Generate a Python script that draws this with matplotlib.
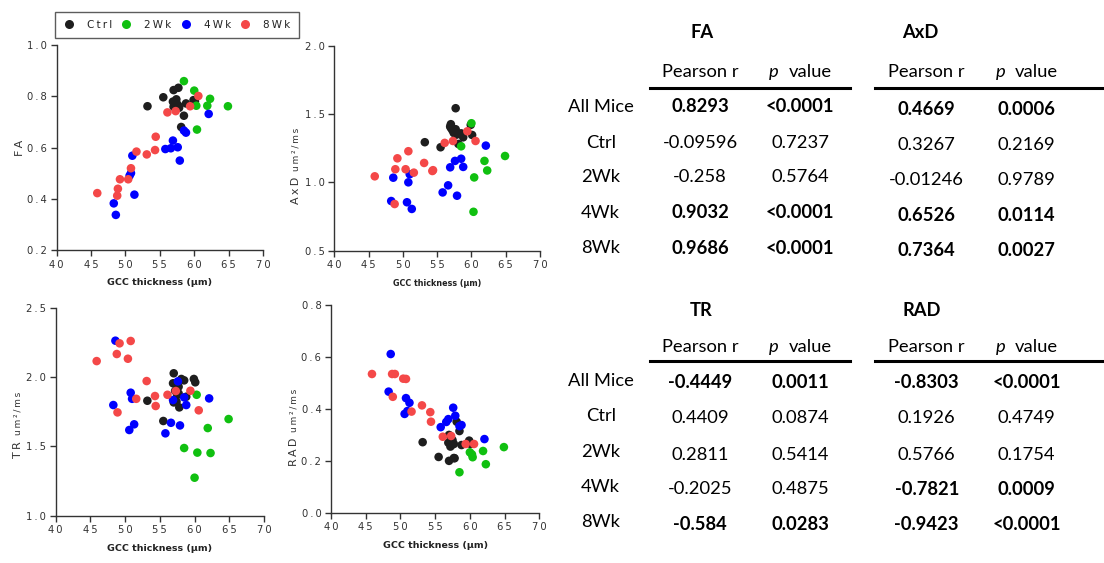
import matplotlib
matplotlib.use("Agg")
import matplotlib.pyplot as plt
from matplotlib.lines import Line2D

W, H = 1104, 563

# GCC thickness (µm) per mouse, by group
gcc_ctrl = [53.2, 55.5, 56.9, 57.0, 57.0, 57.2, 57.4, 57.5, 57.7, 57.7, 57.8, 58.1, 58.5, 58.8, 59.9, 60.1]
gcc_2wk = [58.5, 60.0, 60.3, 60.4, 61.9, 62.3, 64.9]
gcc_4wk = [48.3, 48.6, 50.6, 50.8, 51.0, 51.3, 55.8, 56.6, 56.9, 57.6, 57.9, 58.5, 58.8, 62.1]
gcc_8wk = [45.9, 48.8, 48.9, 49.2, 50.4, 50.8, 51.6, 53.1, 54.3, 54.4, 56.1, 57.3, 59.4, 60.6]

# Fractional anisotropy
fa_ctrl = [0.761, 0.796, 0.779, 0.824, 0.759, 0.762, 0.788, 0.770, 0.833, 0.763, 0.755, 0.680, 0.724, 0.772, 0.785, 0.780]
fa_2wk = [0.859, 0.822, 0.763, 0.670, 0.763, 0.790, 0.761]
fa_4wk = [0.382, 0.337, 0.490, 0.500, 0.568, 0.416, 0.594, 0.597, 0.627, 0.601, 0.549, 0.666, 0.658, 0.731]
fa_8wk = [0.422, 0.412, 0.439, 0.476, 0.476, 0.519, 0.584, 0.573, 0.590, 0.642, 0.737, 0.742, 0.761, 0.801]

# Axial diffusivity (um^2/ms)
axd_ctrl = [1.295, 1.258, 1.410, 1.427, 1.400, 1.385, 1.365, 1.361, 1.544, 1.390, 1.350, 1.282, 1.360, 1.331, 1.422, 1.348]
axd_2wk = [1.265, 1.434, 0.785, 1.037, 1.158, 1.088, 1.194]
axd_4wk = [0.864, 1.035, 0.855, 1.001, 1.060, 0.806, 0.927, 0.979, 1.111, 1.158, 0.903, 1.174, 1.114, 1.270]
axd_8wk = [1.045, 0.842, 1.097, 1.177, 1.097, 1.229, 1.072, 1.143, 1.084, 1.090, 1.290, 1.304, 1.375, 1.304]

# Trace (um^2/ms)
tr_ctrl = [1.829, 1.683, 1.955, 2.027, 1.817, 1.900, 1.822, 1.870, 1.882, 1.930, 1.781, 1.986, 1.976, 1.858, 1.986, 1.962]
tr_2wk = [1.488, 1.274, 1.872, 1.455, 1.632, 1.452, 1.697]
tr_4wk = [1.798, 2.262, 1.618, 1.887, 1.843, 1.659, 1.594, 1.670, 1.834, 1.969, 1.651, 1.853, 1.798, 1.846]
tr_8wk = [2.115, 2.166, 1.745, 2.243, 2.132, 2.260, 1.843, 1.971, 1.863, 1.791, 1.872, 1.899, 1.901, 1.760]

# Radial diffusivity (um^2/ms)
rad_ctrl = [0.272, 0.215, 0.270, 0.200, 0.300, 0.255, 0.262, 0.280, 0.211, 0.265, 0.210, 0.351, 0.315, 0.261, 0.278, 0.265]
rad_2wk = [0.156, 0.233, 0.225, 0.214, 0.238, 0.187, 0.253]
rad_4wk = [0.467, 0.612, 0.381, 0.442, 0.392, 0.424, 0.330, 0.350, 0.361, 0.405, 0.374, 0.334, 0.338, 0.284]
rad_8wk = [0.535, 0.535, 0.447, 0.535, 0.517, 0.516, 0.390, 0.414, 0.388, 0.351, 0.293, 0.296, 0.265, 0.265]

groups = ["Ctrl", "2Wk", "4Wk", "8Wk"]
colors = ["#1e1e1e", "#10c010", "#0000ff", "#f44848"]
gcc = [gcc_ctrl, gcc_2wk, gcc_4wk, gcc_8wk]

# Correlation tables
row_labels = ["All Mice", "Ctrl", "2Wk", "4Wk", "8Wk"]
fa_r = ["0.8293", "-0.09596", "-0.258", "0.9032", "0.9686"]
fa_p = ["<0.0001", "0.7237", "0.5764", "<0.0001", "<0.0001"]
fa_bold = [True, False, False, True, True]
axd_r = ["0.4669", "0.3267", "-0.01246", "0.6526", "0.7364"]
axd_p = ["0.0006", "0.2169", "0.9789", "0.0114", "0.0027"]
axd_bold = [True, False, False, True, True]
tr_r = ["-0.4449", "0.4409", "0.2811", "-0.2025", "-0.584"]
tr_p = ["0.0011", "0.0874", "0.5414", "0.4875", "0.0283"]
tr_bold = [True, False, False, False, True]
rad_r = ["-0.8303", "0.1926", "0.5766", "-0.7821", "-0.9423"]
rad_p = ["<0.0001", "0.4749", "0.1754", "0.0009", "<0.0001"]
rad_bold = [True, False, False, True, True]

fig = plt.figure(figsize=(W / 100, H / 100), dpi=100)

THIN = "\u2009"


def spaced(s):
    return THIN.join(s)


def px_axes(x0, y0, x1, y1):
    return fig.add_axes([x0 / W, 1 - y1 / H, (x1 - x0) / W, (y1 - y0) / H])


def style_axes(ax, ylim, yticks, name, unit, xlabel_size, label_x):
    ax.set_xlim(40, 70)
    ax.set_ylim(*ylim)
    ax.set_xticks(range(40, 71, 5))
    ax.set_yticks(yticks)
    ax.set_xticklabels([spaced(str(t)) for t in range(40, 71, 5)])
    ax.set_yticklabels([spaced(f"{t:.1f}") for t in yticks])
    for s in ("top", "right"):
        ax.spines[s].set_visible(False)
    for s in ("left", "bottom"):
        ax.spines[s].set_color("#333333")
        ax.spines[s].set_linewidth(1.0)
    ax.tick_params(direction="out", length=4, width=1, color="#333333",
                   labelsize=7.2, labelcolor="#333333", pad=3)
    ax.set_xlabel("GCC thickness (µm)", fontsize=xlabel_size,
                  fontweight="bold", color="#222222", labelpad=6)
    # y label: quantity name, with its unit in smaller type above it
    split = 0.5 if not unit else 0.36
    ax.text(label_x, split, spaced(name), transform=ax.transAxes, rotation=90,
            fontsize=8, color="#333333", ha="center",
            va="center" if not unit else "top")
    if unit:
        ax.text(label_x, split + 0.03, spaced(unit), transform=ax.transAxes,
                rotation=90, fontsize=6.5, color="#333333", ha="center", va="bottom")
    ax.patch.set_alpha(0)


def scatter_groups(ax, ys):
    for xs, vals, c in zip(gcc, ys, colors):
        ax.scatter(xs, vals, s=38, color=c, edgecolors="none", zorder=3)


ax_fa = px_axes(56.7, 45, 263, 250)
scatter_groups(ax_fa, [fa_ctrl, fa_2wk, fa_4wk, fa_8wk])
style_axes(ax_fa, (0.2, 1.0), [0.2, 0.4, 0.6, 0.8, 1.0], "FA", None, 6.8, -0.18)

ax_axd = px_axes(334.3, 46, 540, 250.7)
scatter_groups(ax_axd, [axd_ctrl, axd_2wk, axd_4wk, axd_8wk])
style_axes(ax_axd, (0.5, 2.0), [0.5, 1.0, 1.5, 2.0], "AxD", "um²/ms", 5.8, -0.185)

ax_tr = px_axes(55.7, 307.7, 264, 515.7)
scatter_groups(ax_tr, [tr_ctrl, tr_2wk, tr_4wk, tr_8wk])
style_axes(ax_tr, (1.0, 2.5), [1.0, 1.5, 2.0, 2.5], "TR", "um²/ms", 6.8, -0.18)

ax_rad = px_axes(331, 305.3, 539.3, 512.7)
scatter_groups(ax_rad, [rad_ctrl, rad_2wk, rad_4wk, rad_8wk])
style_axes(ax_rad, (0.0, 0.8), [0.0, 0.2, 0.4, 0.6, 0.8], "RAD", "um²/ms", 6.8, -0.18)

# Group legend across the top
handles = [Line2D([], [], marker="o", linestyle="none", markersize=6.5,
                  markerfacecolor=c, markeredgecolor="none") for c in colors]
leg = fig.legend(handles, [spaced(g) for g in groups], ncol=4,
                 loc="center", bbox_to_anchor=((57 + 297) / 2 / W, 1 - 25 / H),
                 frameon=True, fancybox=False, fontsize=7.5,
                 handletextpad=1.2, columnspacing=0.9, borderpad=0.8,
                 handlelength=1.0)
leg.get_frame().set_edgecolor("#333333")
leg.get_frame().set_linewidth(1.0)
for t in leg.get_texts():
    t.set_color("#222222")


def ftext(x, y, s, **kw):
    fig.text(x / W, 1 - y / H, s, family="Lato", **kw)


def draw_table(title, tx, ty, x_label, x_r, x_p, header_y, line_x0, line_x1,
               line_y, rows_y, vals_y, r_vals, p_vals, bold, show_rows):
    fs = 13.2
    ftext(tx, ty, title, fontsize=fs, fontweight="bold", ha="center", va="center")
    ftext(x_r, header_y, "Pearson r", fontsize=fs, ha="center", va="center")
    ftext(x_p - 26, header_y, "p", fontsize=fs, style="italic", ha="center", va="center")
    ftext(x_p + 10, header_y, "value", fontsize=fs, ha="center", va="center")
    fig.add_artist(Line2D([line_x0 / W, line_x1 / W], [1 - line_y / H] * 2,
                          color="black", linewidth=2.2))
    for i in range(5):
        if show_rows:
            ftext(x_label, rows_y[i], row_labels[i], fontsize=fs, ha="center", va="center")
        w = "bold" if bold[i] else "normal"
        ftext(x_r, vals_y[i], r_vals[i], fontsize=fs, fontweight=w, ha="center", va="center")
        ftext(x_p, vals_y[i], p_vals[i], fontsize=fs, fontweight=w, ha="center", va="center")


top_rows = [107, 142.5, 177.5, 213, 248]
draw_table("FA", 701.7, 33, 600.7, 700, 800, 72.3, 650, 850, 87.7,
           top_rows, top_rows, fa_r, fa_p, fa_bold, True)
draw_table("AxD", 920.7, 33, None, 926.7, 1026.7, 72.3, 875, 1102, 87.7,
           top_rows, [r + 2.5 for r in top_rows], axd_r, axd_p, axd_bold, False)

bot_rows = [380.7, 416, 452, 487.3, 521.7]
bot_vals = [383, 418.3, 454.5, 489.3, 524]
draw_table("TR", 700.7, 310.7, 600.7, 700, 800, 346.7, 650, 850, 360.7,
           bot_rows, bot_vals, tr_r, tr_p, tr_bold, True)
draw_table("RAD", 921.7, 310.7, None, 926.7, 1026.7, 346.7, 875, 1102, 360.7,
           bot_rows, bot_vals, rad_r, rad_p, rad_bold, False)

fig.savefig("out.png", dpi=100)
